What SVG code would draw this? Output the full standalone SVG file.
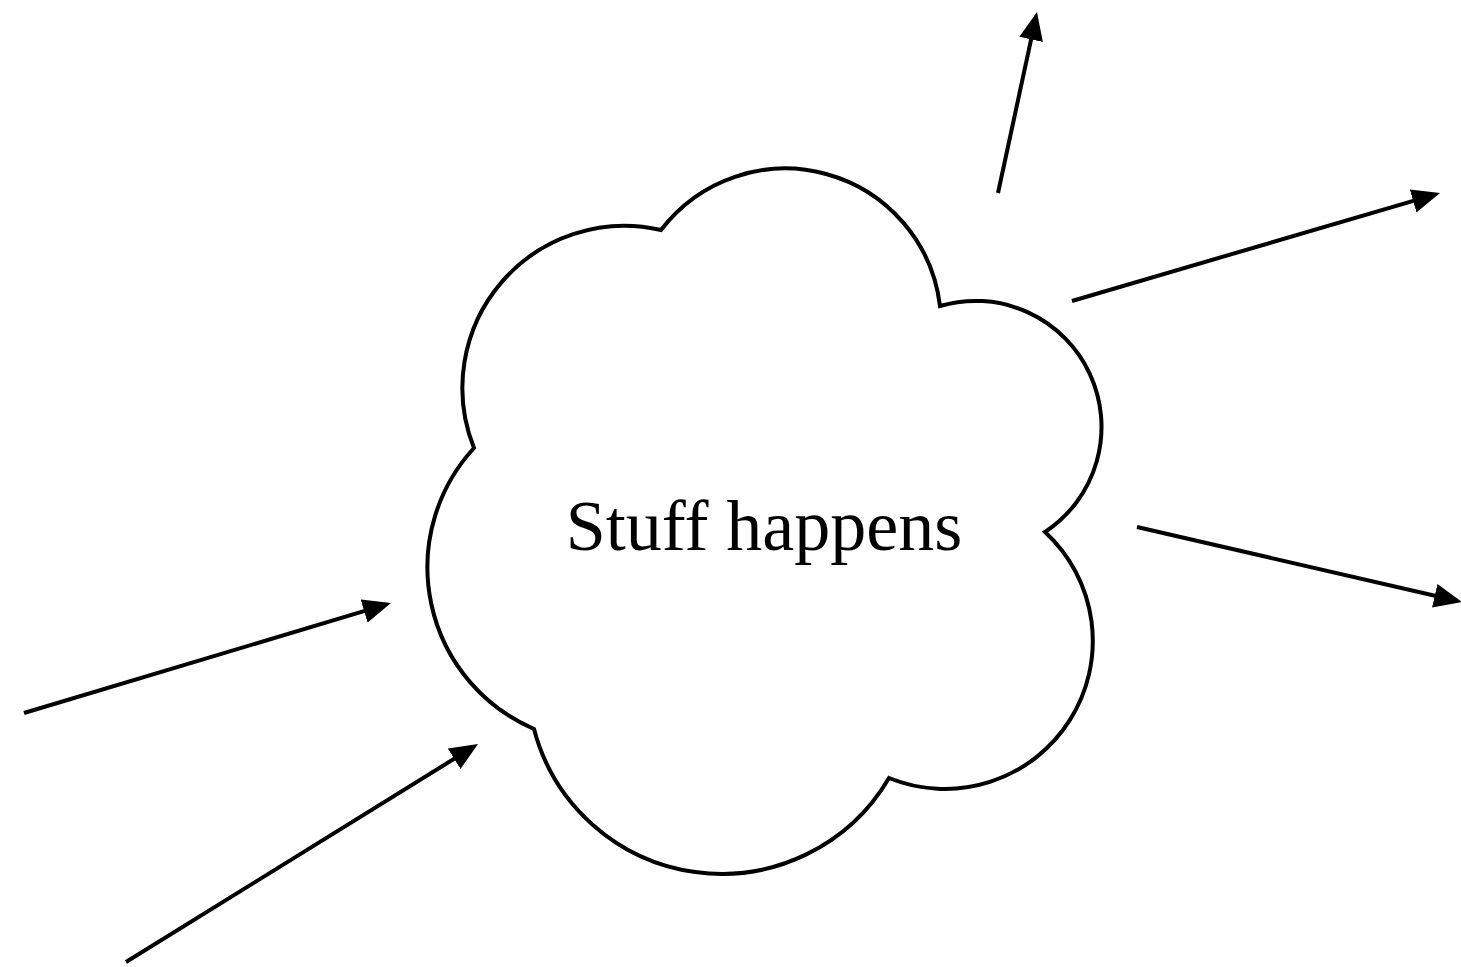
<svg xmlns="http://www.w3.org/2000/svg" width="1461" height="967" viewBox="0 0 1461 967">
<style>
.cloud{fill:#fff;stroke:#000;stroke-width:4;stroke-linejoin:miter}
.conn{fill:none;stroke:#000;stroke-width:4;marker-end:url(#arrow)}
.label{font-family:"Liberation Serif","Times New Roman",serif;font-size:72px;fill:#000;text-anchor:middle}
</style>
<defs>
<marker id="arrow" viewBox="0 0 28 24" refX="18" refY="12" markerWidth="28" markerHeight="24" markerUnits="userSpaceOnUse" orient="auto">
<path d="M0,0 L28,12 L0,24 Z" fill="#000"/>
</marker>
</defs>
<rect width="1461" height="967" fill="#fff"/>
<g id="cloud">
<path class="cloud" d="M661,230 A156,156 0 0 1 940,306 A126,126 0 0 1 1045,532 A148,148 0 0 1 889,778 A194,194 0 0 1 534,729 A176,176 0 0 1 474,448 A162,162 0 0 1 661,230 Z"/>
<text class="label" x="764" y="550">Stuff happens</text>
</g>
<g id="connectors">
<line class="conn" x1="998" y1="193" x2="1034.9" y2="21.8"/>
<line class="conn" x1="1072" y1="301" x2="1430.4" y2="195.8"/>
<line class="conn" x1="1137" y1="527" x2="1452.3" y2="599.8"/>
<line class="conn" x1="24" y1="713" x2="381.4" y2="605.9"/>
<line class="conn" x1="126" y1="962" x2="469.5" y2="749.3"/>
</g>
</svg>
